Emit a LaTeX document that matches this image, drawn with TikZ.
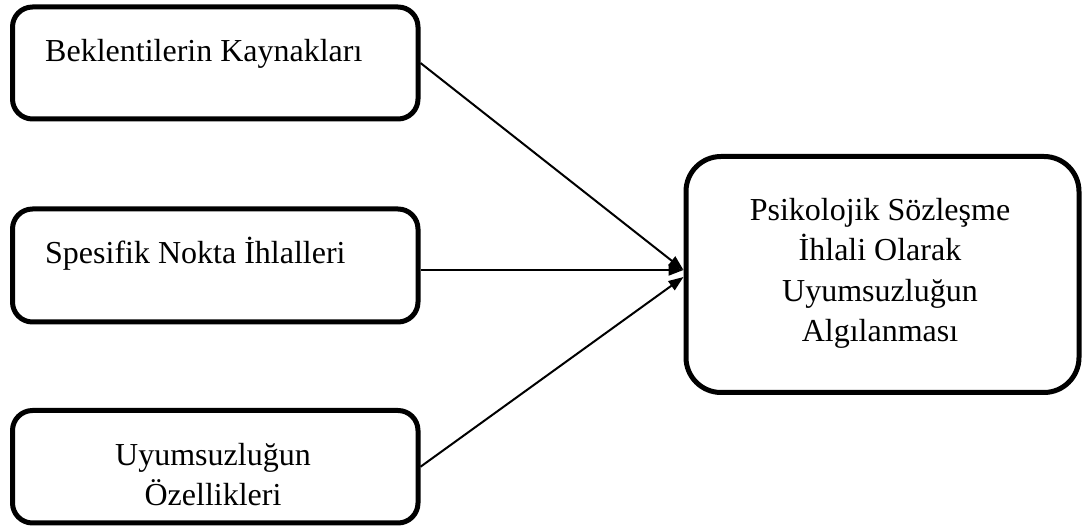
\documentclass[tikz,border=0pt]{standalone}
\usepackage{fontspec}
\setmainfont{Liberation Serif}
\usetikzlibrary{arrows.meta}
\begin{document}
\begin{tikzpicture}[x=1pt,y=-1pt,
  box/.style={draw, line width=5pt, rounded corners=20pt, inner sep=0pt},
  bigbox/.style={box, rounded corners=35pt},
  txt/.style={inner sep=0pt, font=\fontsize{32}{40.5}\selectfont, align=center},
  link/.style={line width=2pt, -{Triangle[length=15pt,width=11pt]}}]
\useasboundingbox (0,0) rectangle (1088,526);

% source boxes on the left
\node[box, minimum width=405.5pt, minimum height=112pt]   (b1) at (215.25,63)    {};
\node[box, minimum width=405.5pt, minimum height=113pt]   (b2) at (215.25,265.5) {};
\node[box, minimum width=405.5pt, minimum height=112.5pt] (b3) at (215.25,466.75) {};
% outcome box on the right
\node[bigbox, minimum width=393pt, minimum height=236pt]  (r)  at (882.5,274.5)  {};

% labels (multi-line labels are anchored on the baseline of their last line)
\node[txt, anchor=base west] (t1) at (45,62)  {Beklentilerin Kaynakları};
\node[txt, anchor=base west] (t2) at (45,264) {Spesifik Nokta İhlalleri};
\node[txt, anchor=base]      (t3) at (213,506) {Uyumsuzluğun\\Özellikleri};
\node[txt, anchor=base]      (t4) at (880,342) {Psikolojik Sözleşme\\İhlali Olarak\\Uyumsuzluğun\\Algılanması};

% connectors
\draw[link] (b1.east) -- ([yshift=4.5pt]r.west);
\draw[link] ([yshift=-4.5pt]b2.east) -- ([yshift=4.5pt]r.west);
\draw[link] (b3.east) -- ([yshift=-2.5pt]r.west);
\end{tikzpicture}
\end{document}
